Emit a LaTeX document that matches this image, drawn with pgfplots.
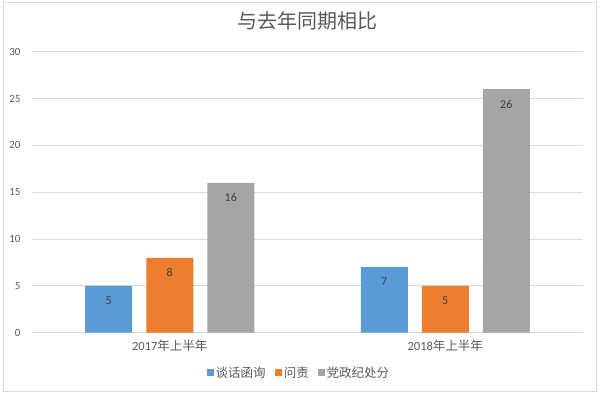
\documentclass[border=0pt]{standalone}
\usepackage{fontspec}
\setmainfont{Carlito}
\newfontfamily\cjk{Noto Sans CJK SC}
\usepackage{pgfplots}
\pgfplotsset{compat=1.18}
\definecolor{cblue}{HTML}{5B9BD5}
\definecolor{corange}{HTML}{ED7D31}
\definecolor{cgray}{HTML}{A5A5A5}
\definecolor{ctext}{HTML}{595959}
\definecolor{cgrid}{HTML}{D9D9D9}
\definecolor{clabel}{HTML}{404040}
\begin{document}
\begin{tikzpicture}
\useasboundingbox (0,0) rectangle (600pt,394pt);
\draw[cgrid, line width=0.8pt] (3pt,2.5pt) rectangle (596pt,391.5pt);
\begin{axis}[
  at={(32pt,61.3pt)}, anchor=south west,
  scale only axis, width=551pt, height=281pt,
  ybar=14pt, bar width=47pt,
  xmin=-0.5, xmax=1.5, ymin=0, ymax=30,
  xtick={0,1},
  xticklabels={2017{\cjk 年上半年}, 2018{\cjk 年上半年}},
  ytick={0,5,10,15,20,25,30},
  ymajorgrids, xmajorgrids=false,
  major grid style={cgrid, line width=0.8pt},
  axis line style={draw=none},
  major tick length=0pt,
  /pgf/number format/assume math mode=true,
  tick label style={font=\fontsize{11}{12}\selectfont, color=ctext},
  xticklabel style={font=\fontsize{12.5}{14}\selectfont, yshift=-4pt},
  yticklabel style={xshift=-8pt},
  title={\cjk 与去年同期相比},
  title style={font=\fontsize{20}{22}\selectfont, color=ctext, at={(0.5,1)}, anchor=center, yshift=24.7pt},
  nodes near coords,
  nodes near coords style={font=\fontsize{12}{13}\selectfont, color=clabel, anchor=center, yshift=-15pt},
  legend columns=3,
  legend style={at={(0.5,0)}, anchor=center, xshift=-8.5pt, yshift=-40pt, draw=none, fill=none,
    font=\fontsize{12.5}{14}\selectfont, text=ctext,
    /tikz/every even column/.append style={column sep=7pt}},
  legend image code/.code={\fill[#1] (0pt,-3.5pt) rectangle (7pt,3.5pt);},
]
\addplot[fill=cblue, draw=none] coordinates {(0,5) (1,7)};
\addlegendentry{\cjk 谈话函询}
\addplot[fill=corange, draw=none] coordinates {(0,8) (1,5)};
\addlegendentry{\cjk 问责}
\addplot[fill=cgray, draw=none] coordinates {(0,16) (1,26)};
\addlegendentry{\cjk 党政纪处分}
\end{axis}
\end{tikzpicture}
\end{document}
